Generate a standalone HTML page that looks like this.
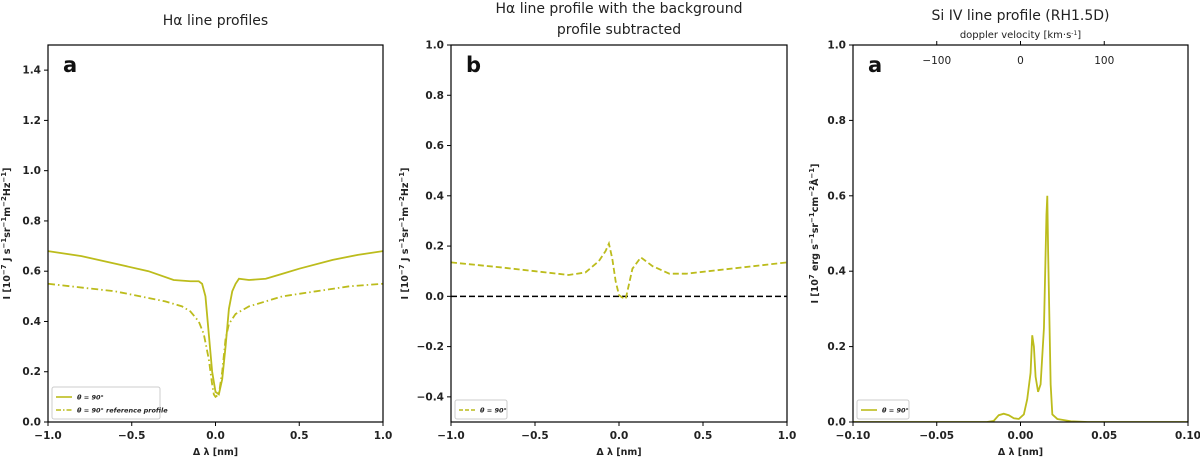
<!DOCTYPE html>
<html><head><meta charset="utf-8"><style>
body{margin:0;background:#fff;}
svg text{font-family:"DejaVu Sans","Liberation Sans",sans-serif;}
.tk{font-size:10.5px;font-weight:bold;fill:#222;}
.ttl{font-size:14px;fill:#222;}
.lab{font-size:9.5px;font-weight:bold;fill:#222;}
.let{font-size:21px;font-weight:bold;fill:#111;}
</style></head><body>
<svg id="fig" width="1200" height="460" viewBox="0 0 1200 460" xmlns="http://www.w3.org/2000/svg"></svg>
<script>
const aX=[-1,-0.8,-0.6,-0.4,-0.25,-0.15,-0.1,-0.08,-0.06,-0.04,-0.02,0,0.02,0.04,0.06,0.08,0.1,0.12,0.14,0.2,0.3,0.4,0.5,0.7,0.85,1];
const aSolid=[0.68,0.66,0.63,0.6,0.565,0.56,0.56,0.55,0.5,0.35,0.2,0.12,0.11,0.17,0.3,0.45,0.52,0.55,0.57,0.565,0.57,0.59,0.61,0.645,0.665,0.68];
const aRefX=[-1,-0.6,-0.3,-0.2,-0.15,-0.1,-0.07,-0.04,-0.02,-0.01,0,0.02,0.04,0.06,0.08,0.12,0.2,0.4,0.6,0.8,1];
const aRef=[0.55,0.52,0.48,0.46,0.44,0.4,0.35,0.25,0.15,0.11,0.1,0.11,0.2,0.33,0.39,0.43,0.46,0.5,0.52,0.54,0.55];
const bX=[-1,-0.7,-0.5,-0.3,-0.2,-0.12,-0.08,-0.06,-0.04,-0.02,0,0.02,0.04,0.06,0.08,0.13,0.2,0.3,0.4,0.6,0.8,1];
const bDiff=[0.135,0.115,0.1,0.085,0.095,0.14,0.18,0.21,0.15,0.06,0.005,-0.005,-0.01,0.05,0.11,0.155,0.12,0.09,0.09,0.105,0.12,0.135];
const cX=[-0.1,-0.02,-0.016,-0.013,-0.01,-0.007,-0.004,-0.001,0.002,0.004,0.006,0.007,0.008,0.009,0.0105,0.012,0.014,0.0155,0.016,0.0165,0.018,0.019,0.022,0.03,0.04,0.1];
const cSi=[0,0,0.003,0.018,0.022,0.018,0.01,0.008,0.02,0.06,0.13,0.23,0.2,0.12,0.08,0.1,0.25,0.55,0.6,0.45,0.1,0.02,0.008,0.002,0,0];
const abTicks=[-1,-0.5,0,0.5,1];
const abTickLabels=["\u22121.0","\u22120.5","0.0","0.5","1.0"];
const aYTicks=[0,0.2,0.4,0.6,0.8,1.0,1.2,1.4];
const bYTicks=[-0.4,-0.2,0,0.2,0.4,0.6,0.8,1.0];
const cXTicks=[-0.1,-0.05,0,0.05,0.1];
const cXTickLabels=["\u22120.10","\u22120.05","0.00","0.05","0.10"];
const cYTicks=[0,0.2,0.4,0.6,0.8,1.0];
const cVelTicks=[-100,0,100];
const cVelLabels=["\u2212100","0","100"];

const NS="http://www.w3.org/2000/svg";
const svg=document.getElementById('fig');
const C="#bcbc1c";
function el(tag,attrs,parent,txt){const e=document.createElementNS(NS,tag);for(const k in attrs)e.setAttribute(k,attrs[k]);if(txt!==undefined)e.textContent=txt;(parent||svg).appendChild(e);return e;}
function fmtY(v){const s=Math.abs(v).toFixed(1);return v<-1e-9?"\u2212"+s:s;}
function panel(p){
  const g=el('g',{});
  
  
  const sx=v=>p.x0+(v-p.xmin)/(p.xmax-p.xmin)*(p.x1-p.x0);
  const sy=v=>p.y1-(v-p.ymin)/(p.ymax-p.ymin)*(p.y1-p.y0);
  p.sx=sx;p.sy=sy;
  p.xt.forEach((v,i)=>{const x=sx(v);
    const t=el('line',{x1:x,x2:x,y1:p.y1,y2:p.y1+4,stroke:'#000','stroke-width':1},g);
    
    const l=el('text',{x:x,y:p.y1+17,'text-anchor':'middle',class:'tk'},g,p.xtl[i]);
    });
  p.yt.forEach(v=>{const y=sy(v);
    el('line',{x1:p.x0-4,x2:p.x0,y1:y,y2:y,stroke:'#000','stroke-width':1},g);
    const l=el('text',{x:p.x0-7,y:y+3.5,'text-anchor':'end',class:'tk'},g,fmtY(v));
    });
  const xl=el('text',{x:(p.x0+p.x1)/2,y:455,'text-anchor':'middle',class:'lab'},g,'\u0394 \u03bb [nm]');
  
  const yl=el('text',{x:0,y:0,'text-anchor':'middle',class:'lab',transform:`translate(${p.ylx},${(p.y0+p.y1)/2}) rotate(-90)`},g);
  
  yl.innerHTML=p.ylab;
  p.titles.forEach((t,i)=>{const tt=el('text',{x:(p.x0+p.x1)/2,y:p.ty+i*21,'text-anchor':'middle',class:'ttl'},g,t);
    });
  const pl=el('text',{x:p.x0+15,y:p.y0+27,class:'let'},g,p.letter);
  
  p.g=g;return p;
}
function series(p,xs,ys,dash,name){
  const d=xs.map((x,i)=>(i?'L':'M')+p.sx(x).toFixed(2)+','+p.sy(ys[i]).toFixed(2)).join('');
  const s=el('path',{d:d,fill:'none',stroke:C,'stroke-width':1.8,'stroke-dasharray':dash||'none','clip-path':`url(#${p.clip})`},p.g);
  
}
function frame(p){const r=el('rect',{x:p.x0,y:p.y0,width:p.x1-p.x0,height:p.y1-p.y0,fill:'none',stroke:'#000','stroke-width':1.2},p.g);
  }
function clip(p){const defs=el('defs',{});const cp=el('clipPath',{id:p.clip},defs);el('rect',{x:p.x0,y:p.y0,width:p.x1-p.x0,height:p.y1-p.y0},cp);}
function legend(p,entries,w){
  const h=entries.length*13+6;const x=p.x0+4,y=p.y1-h-3;
  const lg=el('g',{},p.g);
  el('rect',{x:x,y:y,width:w,height:h,fill:'#fff',stroke:'#ccc','stroke-width':1,rx:2},lg);
  entries.forEach((e,i)=>{const yy=y+10+i*13;
    el('line',{x1:x+4,x2:x+20,y1:yy,y2:yy,stroke:C,'stroke-width':1.6,'stroke-dasharray':e.dash||'none'},lg);
    const t=el('text',{x:x+25,y:yy+2.5,'font-size':'6.5','font-weight':'bold','font-style':'italic',fill:'#222'},lg,e.label);
    });
}
const sup=s=>`<tspan baseline-shift="super" font-size="7">${s}</tspan>`;
const ylabAB=`I [10${sup('\u22127')} J s${sup('\u22121')}sr${sup('\u22121')}m${sup('\u22122')}Hz${sup('\u22121')}]`;
const ylabC=`I [10${sup('7')} erg s${sup('\u22121')}sr${sup('\u22121')}cm${sup('\u22122')}\u00c5${sup('\u22121')}]`;

const pa={name:'panel-a',clip:'ca',x0:48,x1:383,y0:45,y1:422,xmin:-1,xmax:1,ymin:0,ymax:1.5,xt:abTicks,xtl:abTickLabels,yt:aYTicks,ylx:10,ylab:ylabAB,titles:['H\u03b1 line profiles'],ty:25,letter:'a'};
const pb={name:'panel-b',clip:'cb',x0:451,x1:787,y0:45,y1:422,xmin:-1,xmax:1,ymin:-0.5,ymax:1.0,xt:abTicks,xtl:abTickLabels,yt:bYTicks,ylx:408,ylab:ylabAB,titles:['H\u03b1 line profile with the background','profile subtracted'],ty:13,letter:'b'};
const pc={name:'panel-c',clip:'cc',x0:853,x1:1188,y0:45,y1:422,xmin:-0.1,xmax:0.1,ymin:0,ymax:1.0,xt:cXTicks,xtl:cXTickLabels,yt:cYTicks,ylx:818,ylab:ylabC,titles:['Si IV line profile (RH1.5D)'],ty:20,letter:'a'};
[pa,pb,pc].forEach(p=>{clip(p);panel(p);});

series(pa,aX,aSolid,null,'series-theta90');
series(pa,aRefX,aRef,'7,3,1.5,3','series-reference-profile');
legend(pa,[{label:'\u03b8 = 90\u00b0'},{label:'\u03b8 = 90\u00b0 reference profile',dash:'5,2,1.5,2'}],108);

const zl=el('line',{x1:pb.x0,x2:pb.x1,y1:pb.sy(0),y2:pb.sy(0),stroke:'#000','stroke-width':1.5,'stroke-dasharray':'6,3'},pb.g);

series(pb,bX,bDiff,'6,3','series-difference');
legend(pb,[{label:'\u03b8 = 90\u00b0',dash:'4,2'}],52);

series(pc,cX,cSi,null,'series-si-iv');
legend(pc,[{label:'\u03b8 = 90\u00b0'}],52);
cVelTicks.forEach((v,i)=>{const x=pc.sx(v*0.05/100);
  el('line',{x1:x,x2:x,y1:pc.y0,y2:pc.y0-4,stroke:'#000','stroke-width':1},pc.g);
  const t=el('text',{x:x,y:pc.y0+19,'text-anchor':'middle','font-size':'10.5',fill:'#222'},pc.g,cVelLabels[i]);
  });
const vt=el('text',{x:(pc.x0+pc.x1)/2,y:38,'text-anchor':'middle','font-size':'10',fill:'#222'},pc.g);
vt.innerHTML='doppler velocity [km\u00b7s'+'<tspan baseline-shift="super" font-size="6">-1</tspan>]';

[pa,pb,pc].forEach(frame);
</script>
</body></html>
